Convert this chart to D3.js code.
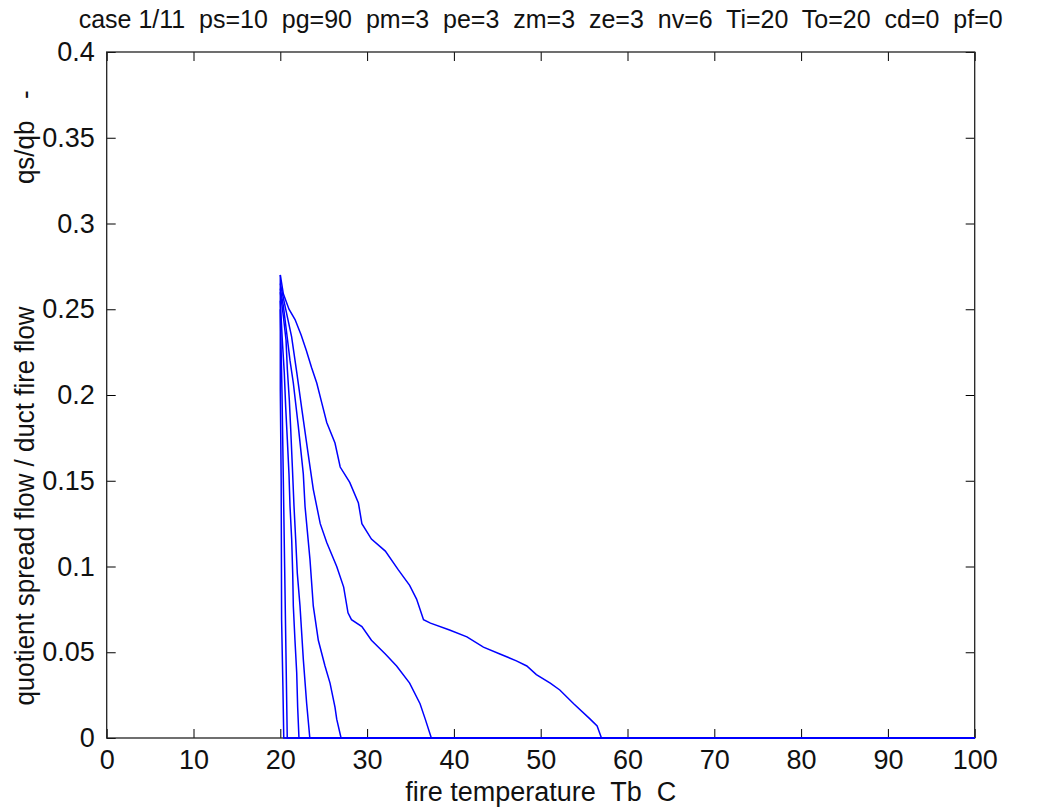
<!DOCTYPE html>
<html><head><meta charset="utf-8">
<script src="https://cdn.jsdelivr.net/npm/d3@7"></script>
<style>
html,body{margin:0;padding:0;background:#fff;}
text{font-family:"Liberation Sans Narrow","Arial Narrow","Liberation Sans",Arial,sans-serif;fill:#111;white-space:pre;}
</style></head>
<body>
<svg id="chart" width="1040" height="807"></svg>
<script>
const titleText = "case 1/11  ps=10  pg=90  pm=3  pe=3  zm=3  ze=3  nv=6  Ti=20  To=20  cd=0  pf=0";
const xLabelText = "fire temperature  Tb  C";
const yLabelText = "quotient spread flow / duct fire flow                 qs/qb   -";
const xTicks = [0,10,20,30,40,50,60,70,80,90,100];
const yTicks = [0,0.05,0.1,0.15,0.2,0.25,0.3,0.35,0.4];
const xDomain = [0,100];
const yDomain = [0,0.4];

const curve1 = [[20,0.27],[20,0.203],[20.1,0.15],[20.15,0.069],[20.3,0.03],[20.4,0],[100,0]];
const curve2 = [[20,0.25],[20.2,0.2],[20.35,0.15],[20.5,0.1],[20.65,0.05],[20.8,0],[100,0]];
const curve3 = [[20,0.255],[20.23,0.232],[20.46,0.213],[20.62,0.193],[20.81,0.174],[21.0,0.154],[21.12,0.135],[21.31,0.116],[21.43,0.096],[21.5,0.077],[21.69,0.057],[21.89,0.038],[22.0,0.018],[22.15,0],[100,0]];
const curve4 = [[20,0.26],[20.35,0.246],[20.66,0.232],[20.81,0.215],[21.04,0.197],[21.2,0.18],[21.39,0.158],[21.58,0.135],[21.77,0.116],[21.96,0.096],[22.27,0.077],[22.65,0.046],[23.04,0.02],[23.4,0],[100,0]];
const curve5 = [[20,0.262],[20.35,0.252],[20.74,0.236],[21.12,0.22],[21.5,0.207],[22.07,0.182],[22.65,0.154],[22.85,0.135],[23.42,0.104],[23.8,0.077],[24.38,0.057],[25.15,0.042],[25.73,0.032],[26.3,0.018],[26.5,0.011],[27.0,0],[100,0]];
const curve6 = [[20,0.265],[20.54,0.252],[21.3,0.234],[21.9,0.213],[22.5,0.191],[23.2,0.166],[23.8,0.145],[24.6,0.125],[25.35,0.114],[26.5,0.1],[27.3,0.088],[27.8,0.073],[28.2,0.069],[29.4,0.065],[30.5,0.057],[32.1,0.049],[33.4,0.042],[34.9,0.032],[36.1,0.02],[36.7,0.011],[37.4,0],[100,0]];
const curve7 = [[20,0.27],[20.35,0.259],[21.0,0.25],[21.7,0.244],[22.4,0.235],[23.0,0.226],[23.6,0.216],[24.2,0.207],[24.8,0.195],[25.35,0.184],[26.3,0.172],[26.9,0.158],[28.0,0.149],[29.0,0.137],[29.4,0.125],[30.5,0.116],[32.1,0.109],[33.6,0.098],[34.9,0.089],[35.7,0.081],[36.5,0.069],[37.3,0.067],[39.5,0.063],[41.5,0.059],[43.4,0.053],[45.3,0.049],[47.2,0.045],[48.4,0.042],[49.5,0.037],[51.1,0.032],[52.2,0.028],[53.8,0.02],[55.7,0.011],[56.5,0.007],[57.0,0],[100,0]];
const curves = [curve1,curve2,curve3,curve4,curve5,curve6,curve7];

const W = 1040, H = 807;
const m = {left:106.7, right:1040-974.7, top:52, bottom:807-738};
const iw = W - m.left - m.right, ih = H - m.top - m.bottom;
const svg = d3.select("#chart");
const g = svg.append("g").attr("transform",`translate(${m.left},${m.top})`);
const x = d3.scaleLinear().domain(xDomain).range([0,iw]);
const y = d3.scaleLinear().domain(yDomain).range([ih,0]);
const fmtY = d => d===0 ? "0" : String(+d.toFixed(2));
const tickLen = 9;
const fs = 27;

function styleAxis(sel, labels){
  sel.select(".domain").remove();
  sel.selectAll(".tick line").attr("stroke","#000").attr("stroke-width",1);
  sel.selectAll(".tick text").style("font-size",fs+"px").attr("fill","#111");
  if(!labels) sel.selectAll(".tick text").remove();
}
const xb = g.append("g").attr("transform",`translate(0,${ih})`)
  .call(d3.axisBottom(x).tickValues(xTicks).tickSizeInner(-tickLen).tickSizeOuter(0).tickPadding(12).tickFormat(d3.format("d")));
styleAxis(xb,true);
const xt = g.append("g").call(d3.axisTop(x).tickValues(xTicks).tickSizeInner(-tickLen).tickSizeOuter(0));
styleAxis(xt,false);
const yl = g.append("g").call(d3.axisLeft(y).tickValues(yTicks).tickSizeInner(-tickLen).tickSizeOuter(0).tickPadding(12).tickFormat(fmtY));
styleAxis(yl,true);
const yr = g.append("g").attr("transform",`translate(${iw},0)`).call(d3.axisRight(y).tickValues(yTicks).tickSizeInner(-tickLen).tickSizeOuter(0));
styleAxis(yr,false);

g.append("rect").attr("x",0).attr("y",0).attr("width",iw).attr("height",ih)
  .attr("fill","none").attr("stroke","#222").attr("stroke-width",1.3);

const line = d3.line().x(d=>x(d[0])).y(d=>y(d[1]));
g.selectAll("path.curve").data(curves).join("path").attr("class","curve")
  .attr("d",line).attr("fill","none").attr("stroke","#0000ff").attr("stroke-width",1.5);

svg.append("text").attr("x",m.left+iw/2).attr("y",28).attr("text-anchor","middle")
  .style("font-size","25px").text(titleText);

svg.append("text").attr("x",m.left+iw/2).attr("y",801).attr("text-anchor","middle")
  .style("font-size",fs+"px").text(xLabelText);
const ylab = svg.append("text").attr("transform",`translate(34,${m.top+ih/2+3}) rotate(-90)`).attr("text-anchor","middle")
  .style("font-size",fs+"px").text(yLabelText);
const yll = ylab.node().getComputedTextLength();
ylab.attr("textLength", yll*0.96).attr("lengthAdjust","spacingAndGlyphs");
</script>
</body></html>
